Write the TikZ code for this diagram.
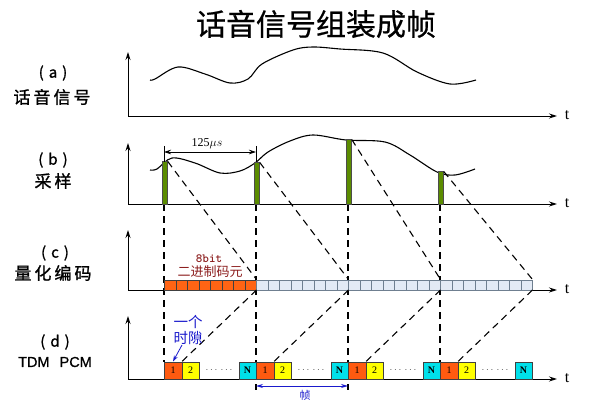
\documentclass[tikz,border=0pt]{standalone}
\usepackage{fontspec}
\setmainfont{Liberation Serif}
\newfontfamily\cjk{Noto Sans CJK SC}
\newfontfamily\cjkb[FakeBold=1.2]{Noto Sans CJK SC}
\newfontfamily\cjkt[FakeBold=0.6]{Noto Sans CJK SC}
\newfontfamily\lsans[FakeBold=0.8]{Liberation Sans}
\usetikzlibrary{arrows.meta}
\definecolor{barG}{HTML}{5B8C00}
\definecolor{bitO}{HTML}{FF6414}
\definecolor{cellB}{HTML}{E3EAF5}
\definecolor{cellE}{HTML}{6F7F90}
\definecolor{slotO}{HTML}{FF5A10}
\definecolor{slotY}{HTML}{FFFF00}
\definecolor{slotC}{HTML}{00E0EA}
\definecolor{darkred}{HTML}{8B1C1C}
\definecolor{myblue}{HTML}{1A1ACC}
\begin{document}
\begin{tikzpicture}[x=1pt,y=-1pt,
  axis/.style={line width=0.9pt,-{Stealth[length=8pt,width=5pt]}},
  dline/.style={line width=1.1pt,dash pattern=on 7pt off 5pt},
  wave/.style={line width=1.1pt},
  bar/.style={draw=black!70,fill=barG,line width=0.5pt,inner sep=0pt,minimum width=5pt,anchor=south},
  bitcell/.style={draw=black!75,fill=bitO,line width=0.5pt,inner sep=0pt,minimum width=11.5pt,minimum height=10pt,anchor=south west},
  cell/.style={draw=cellE,fill=cellB,line width=0.5pt,inner sep=0pt,minimum width=11.5pt,minimum height=10pt,anchor=south west},
  slot/.style={draw=black!75,line width=0.5pt,inner sep=0pt,minimum width=17.5pt,minimum height=17pt,anchor=south west,font=\fontsize{10}{10}\selectfont},
  tlab/.style={font=\fontsize{16}{16}\selectfont},
  side/.style={font=\cjkb\fontsize{17}{17}\selectfont},
  sidep/.style={font=\cjkb\fontsize{15}{15}\selectfont}
]
\useasboundingbox (0,0) rectangle (590,404);

% title
\node[font=\cjkt\fontsize{30}{30}\selectfont] (title) at (316,24) {话音信号组装成帧};

% side labels
\node[sidep] (la1) at (53,73) {(\hspace{5pt}a\hspace{5pt})};
\node[side] (la2) at (52,97) {话\hspace{3pt}音\hspace{3pt}信\hspace{3pt}号};
\node[sidep] (lb1) at (53,160) {(\hspace{5pt}b\hspace{5pt})};
\node[side] (lb2) at (53,181) {采\hspace{3pt}样};
\node[sidep] (lc1) at (55,253) {(\hspace{5pt}c\hspace{5pt})};
\node[side] (lc2) at (53,273) {量\hspace{3pt}化\hspace{3pt}编\hspace{3pt}码};
\node[sidep] (ld1) at (55,342) {(\hspace{5pt}d\hspace{5pt})};
\node[font=\lsans\fontsize{14.5}{14.5}\selectfont] (ld2) at (55,362) {TDM\hspace{10pt}PCM};

% axes
\foreach \n/\yy/\tp in {a/116/52, b/204/143, c/290/230, d/379/316}{
  \coordinate (o\n) at (128,\yy);
  \coordinate (y\n) at (128,\tp);
  \coordinate (x\n) at (557,\yy);
  \draw[axis] (o\n) -- (y\n);
  \draw[axis] (o\n) -- (x\n);
  \node[tlab] (t\n) at (567,\yy-1) {t};
}

% (a) speech wave
\draw[wave] plot[smooth,tension=0.55] coordinates {(150,80) (155,79) (178,67) (205,74) (230,83) (248,79) (262,64) (293,50) (313,47) (340,49) (383,53) (417,72) (450,84) (476,80)};

% (b) sampled wave
\draw[wave] plot[smooth,tension=0.55] coordinates {(150,170) (157,169) (172,158) (195,163) (220,173) (240,171) (255,163) (268,152) (290,141) (313,135) (346,140) (385,142) (410,155) (437,172) (455,175) (475,169)};

% vertical dashed lines (behind everything)
\foreach \k/\xx/\yb in {1/164/362, 2/256/390, 3/348/390, 4/440/362}{
  \coordinate (vt\k) at (\xx,204);
  \coordinate (vb\k) at (\xx,\yb);
  \draw[dline] (vt\k) -- (vb\k);
}

% sample bars
\node[bar,minimum height=42pt] (bar1) at (165,204) {};
\node[bar,minimum height=41pt] (bar2) at (257,204) {};
\node[bar,minimum height=64pt] (bar3) at (349,204) {};
\node[bar,minimum height=32pt] (bar4) at (441,204) {};

% 125 us
\coordinate (pa) at (164,146);
\coordinate (pb) at (256,146);
\draw[line width=0.6pt] (pa) -- (164,162);
\draw[line width=0.6pt] (pb) -- (256,162);
\coordinate (qa) at (164,152);
\coordinate (qb) at (256,152);
\draw[line width=0.7pt,{Stealth[length=7pt,width=4.5pt]}-{Stealth[length=7pt,width=4.5pt]}] (qa) -- (qb);
\node[font=\fontsize{12}{12}\selectfont,inner sep=1pt] (us) at (207,144) {125$\mu s$};

% (c) bit cells
\foreach \i in {1,...,32}{
  \pgfmathsetmacro{\cx}{164+(\i-1)*11.5}
  \ifnum\i<9
    \node[bitcell] (c\i) at (\cx,290) {};
  \else
    \node[cell] (c\i) at (\cx,290) {};
  \fi
}
\node[font=\ttfamily\bfseries\fontsize{12.5}{12.5}\selectfont,text=darkred] (bits) at (209,259) {8bit};
\node[font=\cjk\fontsize{13}{13}\selectfont,text=darkred] (bin) at (210,272) {二进制码元};

% diagonals (b) -> (c)
\draw[dline] (bar1.north east) -- (c8.north east);
\draw[dline] (bar2.north east) -- (c16.north east);
\draw[dline] (bar3.north east) -- (c24.north east);
\draw[dline] (bar4.north east) -- (c32.north east);

% (d) time slots
\foreach \f/\xx in {1/164, 2/256, 3/348, 4/440}{
  \node[slot,fill=slotO] (s\f a) at (\xx,379) {1};
  \node[slot,fill=slotY] (s\f b) at (\xx+17.5,379) {2};
  \node[slot,fill=slotC] (s\f n) at (\xx+74.5,379) {\textbf{N}};
  \node[font=\fontsize{10}{10}\selectfont,text=black!70] (dots\f) at (\xx+55,370) {$\cdots\,\cdots$};
}

% diagonals (c) -> (d)
\draw[dline] (c8.south east) -- (s1a.north east);
\draw[dline] (c16.south east) -- (s2a.north east);
\draw[dline] (c24.south east) -- (s3a.north east);
\draw[dline] (c32.south east) -- (s4a.north east);

% time slot label
\node[font=\cjk\fontsize{14.5}{15.5}\selectfont,text=myblue,align=center] (ts) at (188,330) {一个\\时隙};
\coordinate (tsa) at (182,345);
\draw[myblue,line width=0.8pt,-{Stealth[length=6pt,width=4pt]}] (tsa) -- (s1a.north);

% frame arrow
\coordinate (fa) at (256,386);
\coordinate (fb) at (348,386);
\draw[myblue,line width=0.8pt,{Stealth[length=7pt,width=4pt]}-{Stealth[length=7pt,width=4pt]}] (fa) -- (fb);
\node[font=\cjk\fontsize{11}{11}\selectfont,text=myblue] (frame) at (305,395) {帧};
\end{tikzpicture}
\end{document}
